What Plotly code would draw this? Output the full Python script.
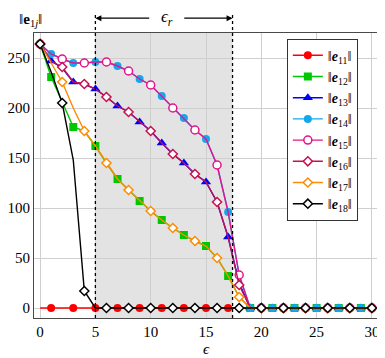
import plotly.graph_objects as go

eps = list(range(31))

e11 = [0] * 31
e12 = [264, 231, 206, 181, 177, 162, 145, 129, 118, 107, 97, 88, 80, 73, 67, 62, 50, 32, 11, 0] + [0] * 11
e13 = [264, 247, 240, 226, 224, 219, 211, 202, 196, 186, 177, 165, 154, 145, 134, 126, 106, 71, 25, 0] + [0] * 11
e14 = [264, 254, 249, 245, 245, 246, 246, 242, 237, 229, 223, 212, 200, 190, 178, 169, 143, 96, 33, 0] + [0] * 11
e15 = [264, 254, 249, 245, 245, 246, 246, 242, 237, 229, 223, 212, 200, 190, 178, 169, 143, 96, 33, 0] + [0] * 11
e16 = [264, 247, 241, 226, 224, 219, 211, 202, 196, 186, 177, 165, 154, 145, 134, 126, 106, 71, 23, 0] + [0] * 11
e17 = [264, 245, 226, 200, 177, 162, 145, 129, 118, 107, 97, 88, 80, 73, 67, 62, 50, 32, 11, 0] + [0] * 11
e18 = [264, 236, 205, 148, 17, 0] + [0] * 25

names = ["11", "12", "13", "14", "15", "16", "17", "18"]
series = [e11, e12, e13, e14, e15, e16, e17, e18]
colors = ["#ff0000", "#00c800", "#0000ff", "#12a8ee", "#e3158c", "#c4124f", "#ff8c00", "#000000"]
symbols = ["circle", "square", "triangle-up", "circle", "circle", "diamond", "diamond", "diamond"]
sizes = [8, 8, 9, 8, 8, 7, 7, 7]
filled = [True, True, True, True, False, False, False, False]
phase = [1, 1, 1, 1, 0, 0, 0, 0]  # markers on every other point

eps_r = [5, 17.4]
serif = "Liberation Serif, Times New Roman, serif"

fig = go.Figure()

fig.add_shape(type="rect", x0=eps_r[0], x1=eps_r[1], y0=0, y1=1, xref="x", yref="paper",
              fillcolor="#e3e3e3", line_width=0, layer="below")

for n, ys, c, s, sz, f, p in zip(names, series, colors, symbols, sizes, filled, phase):
    mk = dict(symbol=s, size=sz,
              color=c if f else "white", line=dict(color=c, width=1.5 if not f else 0))
    fig.add_trace(go.Scatter(x=eps, y=ys, mode="lines", line=dict(color=c, width=1.4),
                             showlegend=False, hoverinfo="skip"))
    fig.add_trace(go.Scatter(x=eps[p::2], y=ys[p::2], mode="markers", marker=mk,
                             showlegend=False))
    fig.add_trace(go.Scatter(x=[None], y=[None], mode="lines+markers",
                             line=dict(color=c, width=1.4), marker=mk,
                             name="‖<b><i>e</i></b><sub>" + n + "</sub>‖"))

# dotted bounds of eps_r, running above the plot
for xv in eps_r:
    fig.add_shape(type="line", x0=xv, x1=xv, y0=0, y1=1.065, xref="x", yref="paper",
                  line=dict(color="black", width=1.3, dash="dot"))

fig.add_annotation(x=eps_r[0], y=1.052, ax=10.0, ay=0, xref="x", yref="paper",
                   axref="x", ayref="pixel", text="", showarrow=True,
                   arrowhead=2, arrowsize=1, arrowwidth=1.2, arrowcolor="black")
fig.add_annotation(x=eps_r[1], y=1.052, ax=12.9, ay=0, xref="x", yref="paper",
                   axref="x", ayref="pixel", text="", showarrow=True,
                   arrowhead=2, arrowsize=1, arrowwidth=1.2, arrowcolor="black")
fig.add_annotation(x=11.45, y=1.052, xref="x", yref="paper", text="<i>ϵ</i><sub><i>r</i></sub>",
                   showarrow=False, font=dict(size=17, family=serif), yanchor="middle")

fig.add_annotation(x=-0.05, y=1.085, xref="paper", yref="paper",
                   text="‖<b>e</b><sub>1<i>j</i></sub>‖", showarrow=False,
                   font=dict(size=15, family=serif), xanchor="left", yanchor="top")
fig.add_annotation(x=0.5, y=-0.072, xref="paper", yref="paper", text="<i>ϵ</i>",
                   showarrow=False, font=dict(size=15, family=serif), yanchor="top")

fig.update_xaxes(range=[-0.55, 30.55], tickvals=[0, 5, 10, 15, 20, 25, 30],
                 showgrid=True, gridcolor="#cfcfcf", gridwidth=1, zeroline=False,
                 showline=True, mirror=True, linecolor="#4a4a4a", linewidth=1.2,
                 ticks="", tickfont=dict(size=15, family=serif), automargin=False)
fig.update_yaxes(range=[-10, 275], tickvals=[0, 50, 100, 150, 200, 250],
                 showgrid=True, gridcolor="#cfcfcf", gridwidth=1, zeroline=False,
                 showline=True, mirror=True, linecolor="#4a4a4a", linewidth=1.2,
                 ticks="", tickfont=dict(size=15, family=serif), automargin=False)

# page body adds an 8px offset, so the figure is sized to the remaining window
fig.update_layout(
    width=377, height=350,
    margin=dict(l=26, r=7, t=25, b=40),
    paper_bgcolor="white", plot_bgcolor="white",
    font=dict(family=serif, color="black", size=15),
    legend=dict(x=0.735, y=0.98, xanchor="left", yanchor="top",
                bordercolor="#333333", borderwidth=1, bgcolor="white",
                font=dict(size=14, family=serif), tracegroupgap=0, itemwidth=30),
)

fig.write_html("out.html")
